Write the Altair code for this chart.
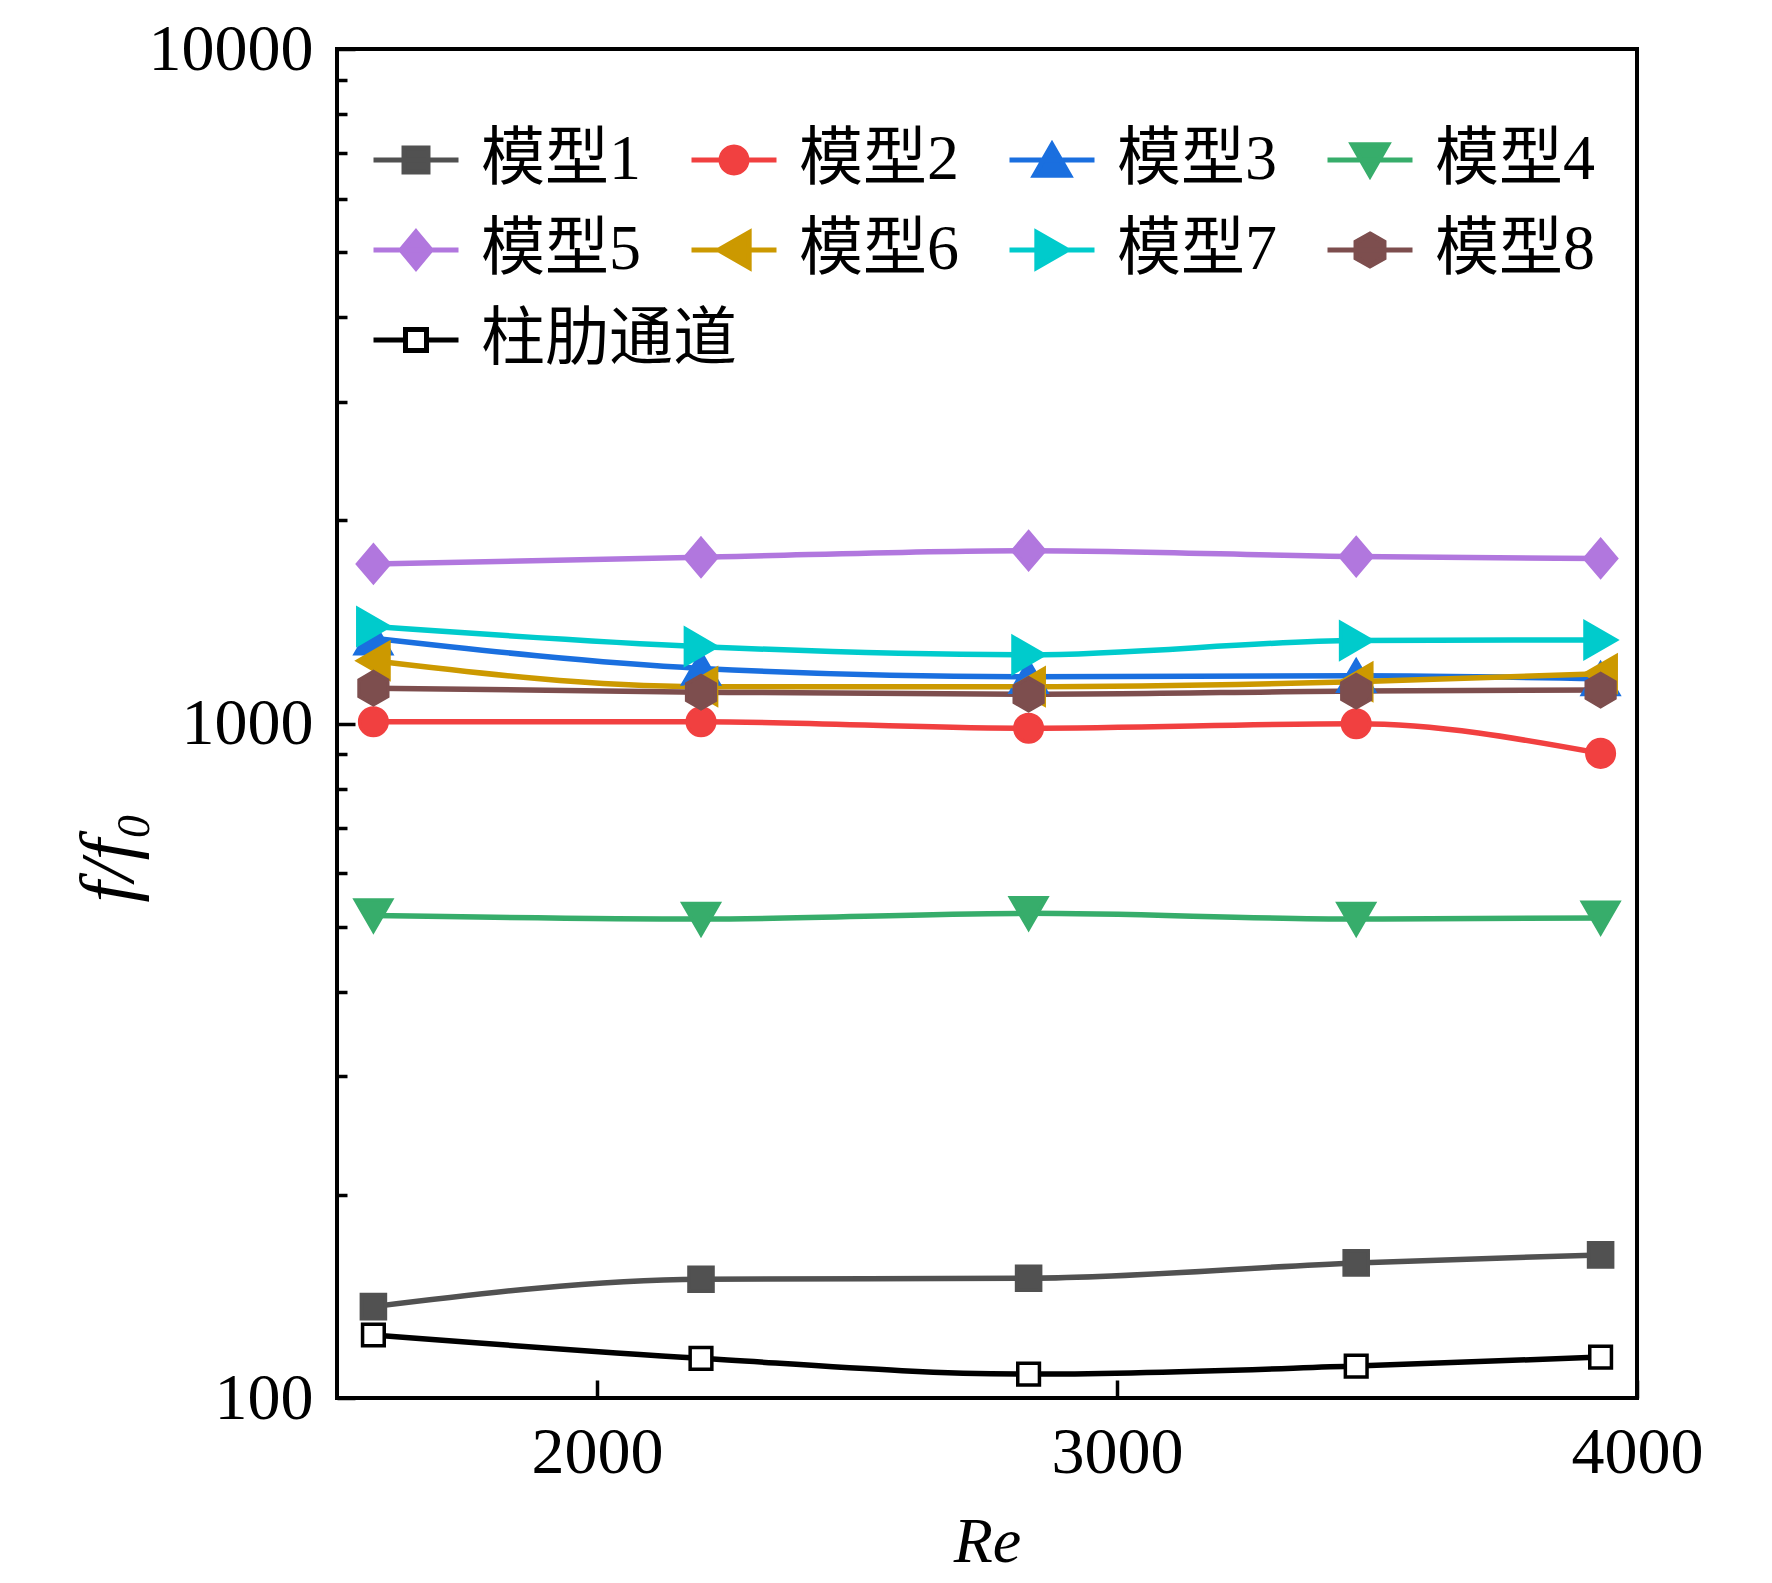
import math
import altair as alt
import pandas as pd

# ---------------- data ----------------
re_values = [1570, 2200, 2830, 3460, 3930]
series_names = ["模型1", "模型2", "模型3", "模型4", "模型5", "模型6", "模型7", "模型8", "柱肋通道"]
model1 = [136.6, 150.0, 150.5, 158.6, 163.0]
model2 = [1006, 1006, 984, 999, 903]
model3 = [1338, 1207, 1173, 1177, 1165]
model4 = [519, 513, 523, 513, 515]
model5 = [1724, 1764, 1804, 1768, 1757]
model6 = [1239, 1134, 1134, 1153, 1185]
model7 = [1392, 1300, 1264, 1327, 1330]
model8 = [1128, 1113, 1105, 1117, 1121]
channel = [124.0, 114.5, 108.5, 111.5, 115.0]
series_values = [model1, model2, model3, model4, model5, model6, model7, model8, channel]

x_major = [2000, 3000, 4000]
y_major = [100, 1000, 10000]
y_minor = [200, 300, 400, 500, 600, 700, 800, 900,
           2000, 3000, 4000, 5000, 6000, 7000, 8000, 9000]

rows = []
for name, vals in zip(series_names, series_values):
    for r, v in zip(re_values, vals):
        rows.append({"series": name, "Re": r, "value": v})
df = pd.DataFrame(rows)

# ---------------- styles ----------------
colors = ["#515151", "#F14040", "#1A6FDF", "#37AD6B", "#B177DE",
          "#CC9900", "#00CBCC", "#7D4E4E", "#000000"]
fills = colors[:-1] + ["#FFFFFF"]

HEX = "M0,-1L0.866,-0.5L0.866,0.5L0,1L-0.866,0.5L-0.866,-0.5Z"
DIA = "M0,-1L0.85,0L0,1L-0.85,0Z"
point_shapes = ["square", "circle", "triangle-up", "triangle-down", DIA,
                "triangle-left", "triangle-right", HEX, "square"]
point_sizes = [580, 760, 1300, 1300, 1400, 1300, 1300, 1100, 470]

FONT = "Liberation Serif"
CJK_FONT = "Liberation Serif, Noto Sans CJK SC"

# legend symbols: a line with the marker on it
LEG_SIZE = 7225
HALF = math.sqrt(LEG_SIZE) / 2.0


def poly(pts):
    return "M" + "L".join(f"{x / HALF:.3f},{y / HALF:.3f}" for x, y in pts) + "Z"


def tri(direction, r=17.5):
    h = 0.866 * r
    if direction == "up":
        pts = [(0, -h), (-r, h), (r, h)]
    elif direction == "down":
        pts = [(0, h), (-r, -h), (r, -h)]
    elif direction == "left":
        pts = [(-h, 0), (h, -r), (h, r)]
    else:
        pts = [(h, 0), (-h, -r), (-h, r)]
    return poly(pts)


def circ(r=13.0, n=28):
    return poly([(r * math.cos(2 * math.pi * k / n), r * math.sin(2 * math.pi * k / n)) for k in range(n)])


LINE = "M-1,0L1,0"
sq_a = 12.0
sq_b = 10.5
legend_paths = [
    LINE + poly([(-sq_a, -sq_a), (sq_a, -sq_a), (sq_a, sq_a), (-sq_a, sq_a)]),
    LINE + circ(),
    LINE + tri("up"),
    LINE + tri("down"),
    LINE + poly([(0, -18), (15, 0), (0, 18), (-15, 0)]),
    LINE + tri("left"),
    LINE + tri("right"),
    LINE + poly([(0, -16), (14, -8), (14, 8), (0, 16), (-14, 8), (-14, -8)]),
    f"M-1,0L{-sq_b / HALF:.3f},0M{sq_b / HALF:.3f},0L1,0"
    + poly([(-sq_b, -sq_b), (sq_b, -sq_b), (sq_b, sq_b), (-sq_b, sq_b)]),
]

xscale = alt.Scale(domain=[1500, 4000], nice=False, zero=False)
yscale = alt.Scale(type="log", domain=[100, 10000], nice=False)

main_x_axis = alt.Axis(
    values=x_major, format="d", ticks=False, domain=False, grid=False,
    orient="bottom", labelFlush=False, labelOverlap=False,
    labelFont=FONT, labelFontSize=66, labelColor="black", labelPadding=22,
    title="Re", titleFont=FONT, titleFontSize=64, titleFontStyle="italic",
    titleFontWeight="normal", titleColor="black", titleY=144,
    titleBaseline="middle",
)
main_y_axis = alt.Axis(
    values=y_major, format="d", ticks=False, domain=False, grid=False,
    orient="left", labelFlush=False, labelOverlap=False,
    labelFont=FONT, labelFontSize=66, labelColor="black", labelPadding=24,
    title="f/f₀", titleFont=FONT, titleFontSize=76, titleFontStyle="italic",
    titleFontWeight="normal", titleColor="black", titleX=-228, titleY=808,
    titleAlign="center", titleBaseline="middle", titleAngle=270,
)

lines = alt.Chart(df).mark_line(interpolate="monotone", strokeWidth=5.5).encode(
    x=alt.X("Re:Q", scale=xscale, axis=main_x_axis),
    y=alt.Y("value:Q", scale=yscale, axis=main_y_axis),
    color=alt.Color("series:N", scale=alt.Scale(domain=series_names, range=colors), legend=None),
)

layers = [lines]
for i, name in enumerate(series_names):
    if i == 0:
        ax_x = alt.Axis(values=x_major, tickSize=18, offset=-18, tickWidth=3.5, tickColor="black",
                        labels=False, domain=False, grid=False, title=None, orient="bottom")
        ax_y = alt.Axis(values=y_major, tickSize=18, offset=-18, tickWidth=3.5, tickColor="black",
                        labels=False, domain=False, grid=False, title=None, orient="left")
    elif i == 1:
        ax_x = None
        ax_y = alt.Axis(values=y_minor, tickSize=10, offset=-10, tickWidth=3.5, tickColor="black",
                        labels=False, domain=False, grid=False, title=None, orient="left")
    else:
        ax_x = None
        ax_y = None
    pts = alt.Chart(df).transform_filter(alt.datum.series == name).mark_point(
        shape=point_shapes[i], size=point_sizes[i], filled=True,
        fill=fills[i], stroke=colors[i], strokeWidth=3.5, opacity=1,
    ).encode(
        x=alt.X("Re:Q", scale=xscale, axis=ax_x),
        y=alt.Y("value:Q", scale=yscale, axis=ax_y),
    )
    layers.append(pts)


def make_legend(y):
    return alt.Legend(
        title=None, orient="none", legendX=34, legendY=y, columns=4,
        direction="horizontal",
        symbolSize=LEG_SIZE, symbolStrokeWidth=5, symbolOpacity=1,
        labelFont=CJK_FONT, labelFontSize=64, labelColor="black", labelOffset=20,
        labelLimit=1000, columnPadding=40, rowPadding=13, padding=0,
    )


def legend_layer(names, paths, fill_list, stroke_list, y):
    leg = make_legend(y)
    return alt.Chart(df).mark_point(filled=True, size=LEG_SIZE, opacity=0).encode(
        x=alt.X("Re:Q", scale=xscale, axis=None),
        y=alt.Y("value:Q", scale=yscale, axis=None),
        shape=alt.Shape("series:N", scale=alt.Scale(domain=names, range=paths), legend=leg),
        fill=alt.Fill("series:N", scale=alt.Scale(domain=names, range=fill_list), legend=leg),
        stroke=alt.Stroke("series:N", scale=alt.Scale(domain=names, range=stroke_list), legend=leg),
    )


layers.append(legend_layer(series_names[:8], legend_paths[:8], fills[:8], colors[:8], 66))
layers.append(legend_layer(series_names[8:], legend_paths[8:], fills[8:], colors[8:], 246))

chart = alt.layer(*layers).resolve_axis(x="independent", y="independent").resolve_scale(
    shape="independent", fill="independent", stroke="independent"
).properties(
    width=1300, height=1349,
    autosize=alt.AutoSizeParams(type="none"),
    padding={"left": 329, "top": 41, "right": 127, "bottom": 177},
).configure_view(stroke="black", strokeWidth=4)

chart.save("out.html", embed_options={"renderer": "svg", "actions": False})
